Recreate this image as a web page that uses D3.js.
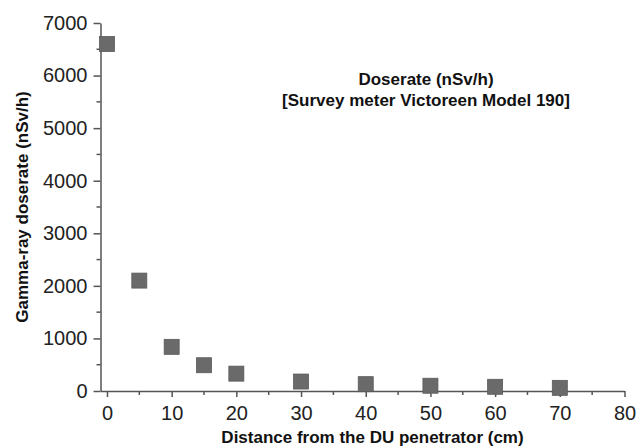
<!DOCTYPE html>
<html><head><meta charset="utf-8">
<script src="https://cdn.jsdelivr.net/npm/d3@7/dist/d3.min.js"></script>
<style>body{margin:0;background:#fff}svg{display:block}</style>
</head><body>
<svg id="chart" width="638" height="447"></svg>
<script>
const distances = [0, 5, 10, 15, 20, 30, 40, 50, 60, 70];
const doserates = [6600, 2100, 840, 490, 330, 180, 130, 100, 80, 60];
const xTicks = [0, 10, 20, 30, 40, 50, 60, 70, 80];
const yTicks = [0, 1000, 2000, 3000, 4000, 5000, 6000, 7000];
const titleLines = ["Doserate (nSv/h)", "[Survey meter Victoreen Model 190]"];

const svg = d3.select("#chart");
const font = "'Liberation Sans', Arial, sans-serif";
const axisColor = "#555";

const x = d3.scaleLinear().domain([-1, 80]).range([100.5, 624.5]);
const y = d3.scaleLinear().domain([0, 7000]).range([391, 23]);

const xMinor = d3.range(5, 80, 10);
const yMinor = d3.range(500, 7000, 1000);

const gx = svg.append("g").attr("transform", `translate(0,${y(0)})`);
gx.call(d3.axisBottom(x).tickValues(xTicks).tickSize(6).tickSizeOuter(0).tickPadding(9).tickFormat(d3.format("d")));
gx.selectAll(".tick line").attr("stroke", axisColor).attr("stroke-width", 1.5);
gx.select(".domain").attr("stroke", axisColor).attr("stroke-width", 1.5);
gx.selectAll("text").attr("font-family", font).attr("font-size", 20).attr("fill", "#222");
gx.selectAll(".minor").data(xMinor).enter().append("line")
  .attr("x1", d => x(d)).attr("x2", d => x(d)).attr("y1", 0).attr("y2", 4)
  .attr("stroke", axisColor).attr("stroke-width", 1.5);

const gy = svg.append("g").attr("transform", `translate(${x(-1)},0)`);
gy.call(d3.axisLeft(y).tickValues(yTicks).tickSize(7).tickSizeOuter(0).tickPadding(6).tickFormat(d3.format("d")));
gy.selectAll(".tick line").attr("stroke", axisColor).attr("stroke-width", 1.5);
gy.select(".domain").attr("stroke", axisColor).attr("stroke-width", 1.5);
gy.selectAll("text").attr("font-family", font).attr("font-size", 20).attr("fill", "#222");
gy.selectAll(".minor").data(yMinor).enter().append("line")
  .attr("y1", d => y(d)).attr("y2", d => y(d)).attr("x1", 0).attr("x2", -4)
  .attr("stroke", axisColor).attr("stroke-width", 1.5);

const s = 15;
svg.append("g").selectAll("rect").data(distances.map((d, i) => [d, doserates[i]])).enter().append("rect")
  .attr("x", d => x(d[0]) - s / 2).attr("y", d => y(d[1]) - s / 2)
  .attr("width", s).attr("height", s)
  .attr("fill", "#6a6a6a").attr("stroke", "#5a5a5a").attr("stroke-width", 0.8);

svg.append("g").selectAll("text").data(titleLines).enter().append("text")
  .attr("x", 426).attr("y", (d, i) => 85 + i * 21)
  .attr("text-anchor", "middle").attr("font-family", font).attr("font-weight", "bold")
  .attr("font-size", 17).attr("fill", "#111").text(d => d);

svg.append("text").attr("x", 372.5).attr("y", 443).attr("text-anchor", "middle")
  .attr("font-family", font).attr("font-weight", "bold").attr("font-size", 17).attr("fill", "#111")
  .text("Distance from the DU penetrator (cm)");
svg.append("text").attr("transform", "translate(27.5,207) rotate(-90)").attr("text-anchor", "middle")
  .attr("font-family", font).attr("font-weight", "bold").attr("font-size", 17).attr("fill", "#111")
  .text("Gamma-ray doserate (nSv/h)");
</script>
</body></html>
